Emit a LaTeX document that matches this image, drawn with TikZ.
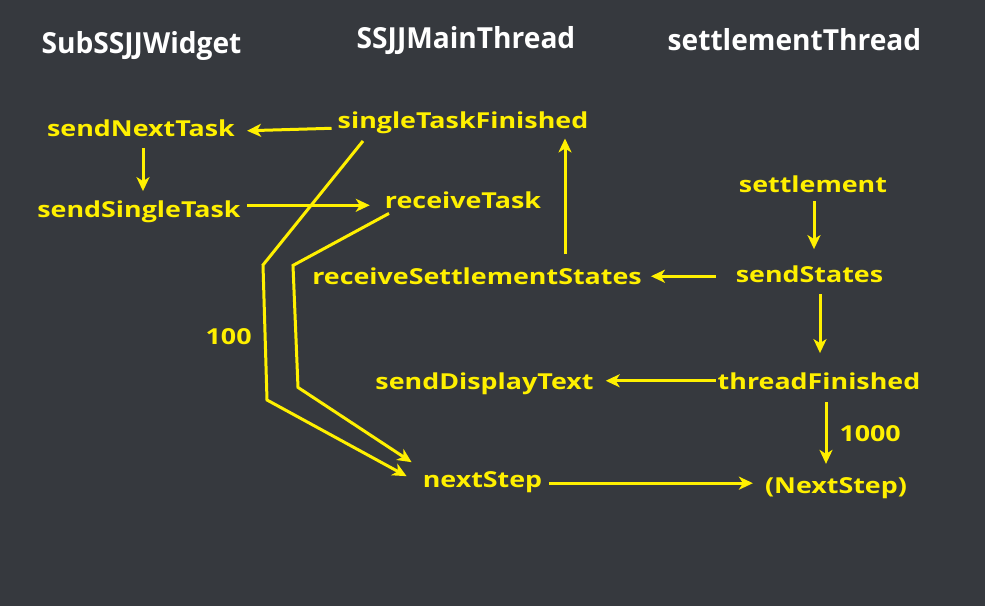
\documentclass[tikz,border=0pt]{standalone}
\usepackage{fontspec}
\setmainfont{Open Sans}[FakeStretch=1.22]
\newfontfamily\headfont{Open Sans}[FakeStretch=0.97]
\usetikzlibrary{arrows.meta}
\definecolor{bgdark}{RGB}{54,57,62}
\definecolor{flowyellow}{RGB}{255,240,0}
\begin{document}
\begin{tikzpicture}[x=1pt, y=-1pt,
  lbl/.style={text=flowyellow, font=\fontsize{22}{26}\selectfont\bfseries, inner sep=2pt, anchor=base},
  head/.style={text=white, font=\headfont\fontsize{29}{32}\selectfont\bfseries, inner sep=2pt, anchor=base},
  arr/.style={draw=flowyellow, line width=3pt, -{Stealth[length=14pt, width=13pt, inset=4pt]}}]
  % Background
  \fill[bgdark] (0,0) rectangle (985,606);
  % Thread headers
  \node[head] (hsub) at (141.5,53) {SubSSJJWidget};
  \node[head] (hmain) at (466,48) {SSJJMainThread};
  \node[head] (hsettle) at (794.5,50) {settlementThread};
  % SubSSJJWidget
  \node[lbl] (sendnext) at (141,136.5) {sendNextTask};
  \node[lbl] (sendsingle) at (139,217) {sendSingleTask};
  % SSJJMainThread
  \node[lbl] (finished) at (463,128) {singleTaskFinished};
  \node[lbl] (recvtask) at (463,208) {receiveTask};
  \node[lbl] (recvstates) at (477,284) {receiveSettlementStates};
  \node[lbl] (display) at (484.5,389) {sendDisplayText};
  \node[lbl] (nextstep) at (482.5,487) {nextStep};
  % settlementThread
  \node[lbl] (settle) at (813,192) {settlement};
  \node[lbl] (sendstates) at (809.5,282) {sendStates};
  \node[lbl] (thrfin) at (819,389) {threadFinished};
  \node[lbl] (nextcall) at (836,493) {(NextStep)};
  % Arrows
  \draw[arr] ([xshift=-4,yshift=-6]finished.west) -- ([xshift=10,yshift=-2.5]sendnext.east);
  \draw[arr] ([xshift=2,yshift=-9]sendnext.south) -- ([xshift=2,yshift=7]sendnext.south |- sendsingle.north);
  \draw[arr] ([xshift=4,yshift=6]sendsingle.east) -- ([xshift=-13,yshift=6]sendsingle.east -| recvtask.west);
  \draw[arr] ([xshift=-100,yshift=-5.5]finished.south) -- ++(-100,124)
    -- node[lbl, anchor=east, xshift=-10, pos=0.53] {100} ++(4,135)
    -- ([xshift=-14,yshift=5.5]nextstep.west);
  \draw[arr] ([xshift=-74,yshift=-3]recvtask.south) -- ++(-96,52) -- ++(5,122)
    -- ([xshift=-9,yshift=19.5]nextstep.west);
  \draw[arr] ([xshift=88,yshift=11]recvstates.north) -- ([xshift=88,yshift=-3]recvstates.north |- finished.south);
  \draw[arr] ([xshift=1,yshift=-7]settle.south) -- ([xshift=1,yshift=14]settle.south |- sendstates.north);
  \draw[arr] ([xshift=-18,yshift=-2.5]sendstates.west) -- ([xshift=7,yshift=-2.5]sendstates.west -| recvstates.east);
  \draw[arr] ([xshift=10.5,yshift=-10]sendstates.south) -- ([xshift=10.5,yshift=17]sendstates.south |- thrfin.north);
  \draw[arr] (thrfin.west) -- ([xshift=10]thrfin.west -| display.east);
  \draw[arr] ([xshift=7,yshift=-11]thrfin.south) -- node[lbl, anchor=west, xshift=10] {1000} ([xshift=7,yshift=11]thrfin.south |- nextcall.north);
  \draw[arr] ([xshift=5,yshift=-1.5]nextstep.east) -- ([xshift=-10,yshift=-1.5]nextstep.east -| nextcall.west);
\end{tikzpicture}
\end{document}
